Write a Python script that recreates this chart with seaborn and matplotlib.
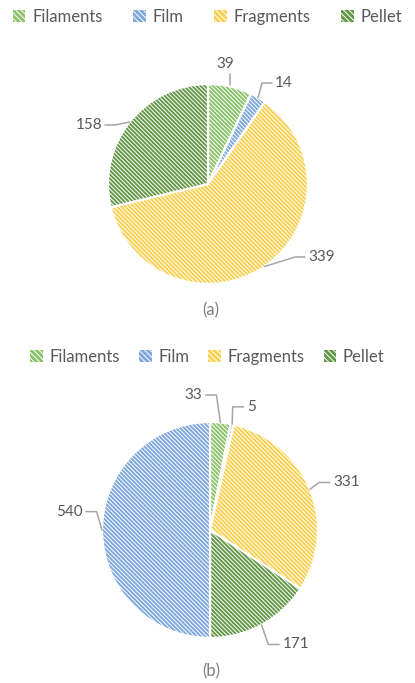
import numpy as np
import matplotlib
matplotlib.use("Agg")
import matplotlib.pyplot as plt
from matplotlib.patches import Patch
import seaborn as sns

# data
categories = ["Filaments", "Film", "Fragments", "Pellet"]
values_a = [39, 14, 339, 158]
# (b) has five slices: the tiny "5" sits between Filaments and Fragments,
# the large 540 slice is blue like Film
values_b = [33, 5, 331, 171, 540]
cat_idx_b = [0, 1, 2, 3, 1]

palette = sns.color_palette(["#8cc46c", "#7ea8dc", "#fbd051", "#66984a"])

sns.set_theme(style="white")
plt.rcParams["font.family"] = ["Lato", "DejaVu Sans"]
plt.rcParams["hatch.linewidth"] = 0.7
TXT = "#595959"
LINE = "#a6a6a6"
HATCH = "\\" * 8

fig = plt.figure(figsize=(4.15, 6.83), dpi=100)
W, H = 415, 683


def pie_axes(cx, cy, r, top, bottom):
    ax = fig.add_axes([0, 1 - bottom / H, 1, (bottom - top) / H])
    lims = ((-cx / r, (W - cx) / r), (-(bottom - cy) / r, (cy - top) / r))
    return ax, lims


def draw_pie(ax, lims, vals, colors, label_pos):
    wedges, _ = ax.pie(vals, colors=colors, startangle=90, counterclock=False,
                       radius=1, wedgeprops=dict(edgecolor="white", linewidth=1.6,
                                                 hatch=HATCH))
    ax.set_aspect("auto")
    ax.set_xlim(*lims[0])
    ax.set_ylim(*lims[1])
    ax.set_axis_off()
    for w, v, (tx, ty, side) in zip(wedges, vals, label_pos):
        mid = np.deg2rad((w.theta1 + w.theta2) / 2)
        px, py = np.cos(mid), np.sin(mid)
        if side == "top":
            ax.text(tx, ty, str(v), ha="center", va="bottom", fontsize=11, color=TXT)
            ax.plot([px, px], [ty - 0.03, py + 0.01], color=LINE, lw=1.1)
            continue
        sgn = 1 if side == "left" else -1
        ax.text(tx, ty, str(v), ha=side, va="center", fontsize=11, color=TXT)
        x0 = tx - sgn * 0.03
        x1 = x0 - sgn * 0.1
        ax.plot([x0, x1, px], [ty, ty, py], color=LINE, lw=1.1,
                solid_joinstyle="round")
    return wedges


# label placement (layout, in pie-radius units)
pos_a = [(0.17, 1.13, "top"), (0.67, 1.01, "left"),
         (1.00, -0.73, "left"), (-1.06, 0.59, "right")]
pos_b = [(-0.07, 1.25, "right"), (0.34, 1.14, "left"), (1.14, 0.44, "left"),
         (0.67, -1.06, "left"), (-1.18, 0.17, "right")]

ax_a, lims_a = pie_axes(208, 184, 100, 40, 330)
draw_pie(ax_a, lims_a, values_a, [palette[i] for i in range(4)], pos_a)

ax_b, lims_b = pie_axes(210, 530, 108, 375, 683)
draw_pie(ax_b, lims_b, values_b, [palette[i] for i in cat_idx_b], pos_b)

handles = [Patch(facecolor=palette[i], edgecolor="white", hatch="\\" * 6, lw=0)
           for i in range(4)]
for y, spacing in [(17, 1.85), (357, 1.15)]:
    fig.legend(handles, categories, loc="center", ncol=4,
               bbox_to_anchor=(0.5, 1 - y / H), frameon=False,
               handlelength=0.75, handleheight=0.75, handletextpad=0.4,
               columnspacing=spacing, fontsize=12, labelcolor=TXT)

fig.text(211 / W, 1 - 310 / H, "(a)", ha="center", va="center", fontsize=12, color="#7f7f7f")
fig.text(211 / W, 1 - 671 / H, "(b)", ha="center", va="center", fontsize=12, color="#7f7f7f")

fig.savefig("out.png", dpi=100, facecolor="white")
